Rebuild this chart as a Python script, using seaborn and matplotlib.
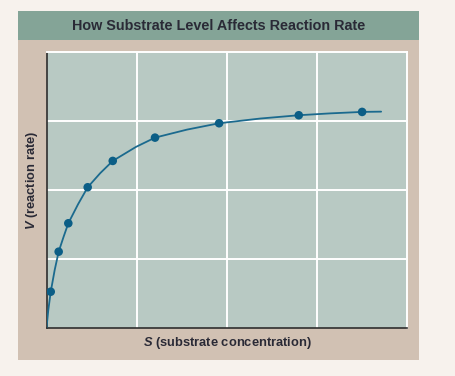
import matplotlib
matplotlib.use("Agg")
import matplotlib.pyplot as plt
from matplotlib.patches import Rectangle
import seaborn as sns
import pandas as pd

# values (grid units, 4 x 4 cells)
dot_s = [0.047, 0.135, 0.242, 0.457, 0.735, 1.204, 1.915, 2.799, 3.502]
dot_v = [0.525, 1.104, 1.515, 2.036, 2.417, 2.754, 2.962, 3.078, 3.126]
# points along the drawn curve (includes the dots plus a few in-between)
curve_s = [0.0, 0.02, 0.047, 0.091, 0.135, 0.189, 0.242, 0.35, 0.457, 0.596,
           0.735, 0.993, 1.204, 1.559, 1.915, 2.37, 2.799, 3.15, 3.502, 3.713]
curve_v = [0.0, 0.26, 0.525, 0.84, 1.104, 1.317, 1.515, 1.79, 2.036, 2.24,
           2.417, 2.62, 2.754, 2.87, 2.962, 3.03, 3.078, 3.105, 3.126, 3.130]

title = 'How Substrate Level Affects Reaction Rate'
xlabel = r'$\mathbfit{S}$ (substrate concentration)'
ylabel = r'$\mathbfit{V}$ (reaction rate)'

outer_bg = '#f7f2ed'
panel_bg = '#d1c1b3'
band_bg = '#84a497'
plot_bg = '#b8c9c3'
text_col = '#2a2a36'
line_col = '#1b6a8e'
dot_col = '#0b5e86'

sns.set_style('white')
plt.rcParams['font.family'] = ['Liberation Sans', 'DejaVu Sans']
plt.rcParams['mathtext.fontset'] = 'custom'
plt.rcParams['mathtext.bfit'] = 'Liberation Sans:italic:bold'
plt.rcParams['mathtext.rm'] = 'Liberation Sans:bold'

W, H = 455, 376
fig = plt.figure(figsize=(W / 100, H / 100), dpi=100)
fig.patch.set_facecolor(outer_bg)

def box(x0, y0, x1, y1):
    # pixel box (top-left origin) -> figure fraction
    return (x0 / W, 1 - y1 / H, (x1 - x0) / W, (y1 - y0) / H)

for (x0, y0, x1, y1), c in [((18, 11, 419, 360), panel_bg), ((18, 11, 419, 40), band_bg)]:
    l, b, w, h = box(x0, y0, x1, y1)
    fig.patches.append(Rectangle((l, b), w, h, transform=fig.transFigure,
                                 facecolor=c, edgecolor='none', zorder=-2))

fig.text(218.5 / W, 1 - 26 / H, title, ha='center', va='center',
         fontsize=10.4, fontweight='bold', color=text_col)

ax = fig.add_axes(box(46.5, 51.5, 407, 328))
ax.set_zorder(2)
ax.set_facecolor(plot_bg)

curve = pd.DataFrame({'S': curve_s, 'V': curve_v})
dots = pd.DataFrame({'S': dot_s, 'V': dot_v})
sns.lineplot(data=curve, x='S', y='V', ax=ax, color=line_col, linewidth=1.3,
             sort=False, zorder=3)
sns.scatterplot(data=dots, x='S', y='V', ax=ax, color=dot_col, s=38,
                edgecolor='none', zorder=4)

ax.set_xlim(0, 4)
ax.set_ylim(0, 4)
ax.set_xticks([1, 2, 3])
ax.set_yticks([1, 2, 3])
ax.grid(True, color='white', linewidth=1.4)
ax.set_axisbelow(True)
ax.tick_params(length=0, labelbottom=False, labelleft=False)
for side in ['top', 'right']:
    ax.spines[side].set_color('white')
    ax.spines[side].set_linewidth(1.4)
for side in ['left', 'bottom']:
    ax.spines[side].set_color('#2e2e2e')
    ax.spines[side].set_linewidth(1.2)
ax.set_xlabel('')
ax.set_ylabel('')

fig.text(227 / W, 1 - 343 / H, xlabel, ha='center', va='center',
         fontsize=9.3, fontweight='bold', color=text_col)
fig.text(32 / W, 1 - 180 / H, ylabel, ha='center', va='center', rotation=90,
         fontsize=9.3, fontweight='bold', color=text_col)

fig.savefig('out.png', dpi=100, facecolor=fig.get_facecolor())
